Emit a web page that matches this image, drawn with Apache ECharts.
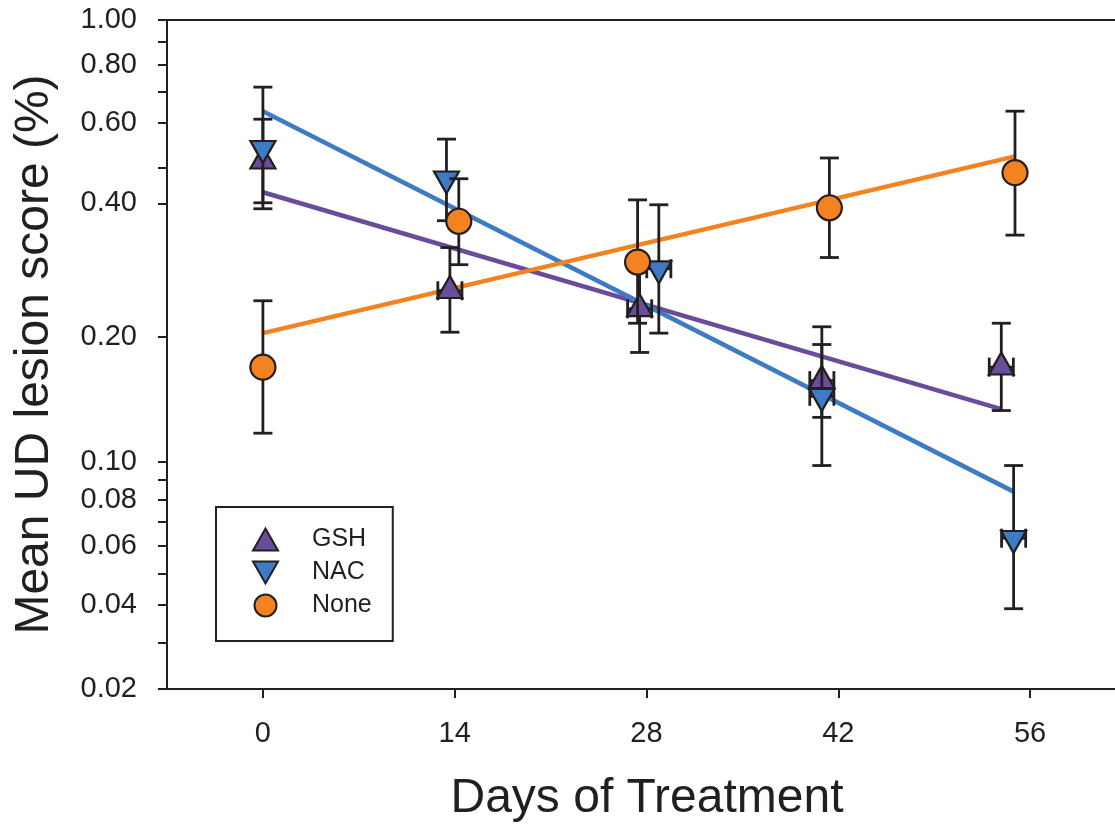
<!DOCTYPE html>
<html>
<head>
<meta charset="utf-8">
<script src="https://cdn.jsdelivr.net/npm/echarts@6/dist/echarts.min.js"></script>
<style>
html,body{margin:0;padding:0;background:#fff;}
#chart{width:1115px;height:828px;}
</style>
</head>
<body>
<div id="chart"></div>
<script>
// ---- data ----
const seriesNames = ['GSH', 'NAC', 'None'];

const gshDays   = [0, 13.65, 27.5, 40.8, 53.9];
const gshMean   = [0.495, 0.255, 0.232, 0.158, 0.170];
const gshUpper  = [0.611, 0.319, 0.292, 0.192, 0.215];
const gshLower  = [0.401, 0.205, 0.184, 0.129, 0.134];
const gshDayErr = [0, 0.88, 0.88, 0.88, 0.88];

const nacDays   = [0, 13.4, 28.9, 40.8, 54.8];
const nacMean   = [0.528, 0.453, 0.286, 0.145, 0.063];
const nacUpper  = [0.717, 0.553, 0.397, 0.211, 0.098];
const nacLower  = [0.389, 0.366, 0.204, 0.098, 0.039];
const nacDayErr = [0, 0, 0.88, 0.88, 0.88];

const noneDays   = [0, 14.3, 27.35, 41.35, 54.9];
const noneMean   = [0.170, 0.365, 0.296, 0.391, 0.467];
const noneUpper  = [0.242, 0.453, 0.407, 0.503, 0.636];
const noneLower  = [0.118, 0.292, 0.215, 0.303, 0.340];
const noneDayErr = [0, 0, 0, 0, 0];

// fitted trend lines (end points)
const gshFitDays  = [0, 53.9];
const gshFitVals  = [0.423, 0.135];
const nacFitDays  = [0, 54.8];
const nacFitVals  = [0.636, 0.084];
const noneFitDays = [0, 54.9];
const noneFitVals = [0.204, 0.507];

// axis ticks
const xTickValues = [0, 14, 28, 42, 56];
const yTickValues = [0.02, 0.04, 0.06, 0.08, 0.10, 0.20, 0.40, 0.60, 0.80, 1.00];
const yMinorTickValues = [0.03, 0.05, 0.07, 0.09, 0.48, 0.7, 0.9];

// ---- scale transform of the y axis (offset log) ----
const OFF = 0.02;
const T = v => Math.log10(v + OFF);

const INK = '#231f20';
const colors = { GSH: '#6a4c9c', NAC: '#3d7cc4', None: '#f58220' };
const FONT = 'Liberation Sans, Arial, Helvetica, sans-serif';

function errData(days, mean, lower, upper, dErr) {
  return days.map((d, i) => [d, T(mean[i]), T(lower[i]), T(upper[i]), dErr[i]]);
}
function ptData(days, mean) { return days.map((d, i) => [d, T(mean[i])]); }

function errRender(params, api) {
  const x = api.value(0), m = api.value(1), lo = api.value(2), hi = api.value(3), dx = api.value(4);
  const c = api.coord([x, m]);
  const pt = api.coord([x, hi]);
  const pb = api.coord([x, lo]);
  const cap = 9.5;
  const st = { stroke: INK, lineWidth: 2.8, fill: null };
  const ch = [
    { type: 'line', shape: { x1: c[0], y1: pt[1], x2: c[0], y2: pb[1] }, style: st },
    { type: 'line', shape: { x1: c[0] - cap, y1: pt[1], x2: c[0] + cap, y2: pt[1] }, style: st },
    { type: 'line', shape: { x1: c[0] - cap, y1: pb[1], x2: c[0] + cap, y2: pb[1] }, style: st }
  ];
  if (dx > 0) {
    const l = api.coord([x - dx, m]), r = api.coord([x + dx, m]);
    ch.push({ type: 'line', shape: { x1: l[0], y1: c[1], x2: r[0], y2: c[1] }, style: st });
    ch.push({ type: 'line', shape: { x1: l[0], y1: c[1] - cap, x2: l[0], y2: c[1] + cap }, style: st });
    ch.push({ type: 'line', shape: { x1: r[0], y1: c[1] - cap, x2: r[0], y2: c[1] + cap }, style: st });
  }
  return { type: 'group', children: ch };
}

function nearestTickLabel(val) {
  let best = yTickValues[0], bd = Infinity;
  yTickValues.forEach(v => { const d = Math.abs(T(v) - val); if (d < bd) { bd = d; best = v; } });
  return best.toFixed(2);
}

const chart = echarts.init(document.getElementById('chart'), null, { renderer: 'canvas' });

const option = {
  animation: false,
  backgroundColor: '#ffffff',
  textStyle: { fontFamily: FONT, color: INK },
  grid: { left: 167, right: 0, top: 20, bottom: 137, containLabel: false },
  xAxis: [{
    type: 'value', min: -7, max: 62.2,
    name: 'Days of Treatment', nameLocation: 'middle', nameGap: 86,
    nameTextStyle: { fontSize: 48, color: INK, fontFamily: FONT, padding: [0, 0, 0, 12] },
    axisLine: { show: true, onZero: false, lineStyle: { color: INK, width: 2 } },
    axisTick: { show: true, inside: false, length: 9, customValues: xTickValues, lineStyle: { color: INK, width: 2 } },
    axisLabel: { show: true, customValues: xTickValues, fontSize: 29, color: INK, fontFamily: FONT, margin: 30 },
    splitLine: { show: false }
  }, {
    type: 'value', min: -7, max: 62.2, position: 'top',
    axisLine: { show: true, onZero: false, lineStyle: { color: INK, width: 2 } },
    axisTick: { show: false }, axisLabel: { show: false }, splitLine: { show: false }
  }],
  yAxis: [{
    type: 'value', min: T(0.02), max: T(1.0),
    name: 'Mean UD lesion score (%)', nameLocation: 'middle', nameGap: 108,
    nameTextStyle: { fontSize: 48, color: INK, fontFamily: FONT },
    axisLine: { show: true, onZero: false, lineStyle: { color: INK, width: 2 } },
    axisTick: { show: true, inside: false, length: 9,
      customValues: yTickValues.concat(yMinorTickValues).map(T),
      lineStyle: { color: INK, width: 2 } },
    axisLabel: { show: true, customValues: yTickValues.map(T), fontSize: 29, color: INK,
      fontFamily: FONT, margin: 30, formatter: nearestTickLabel },
    splitLine: { show: false }
  }],
  legend: {
    orient: 'vertical', left: 216, top: 507,
    data: [
      { name: 'GSH', icon: 'triangle' },
      { name: 'NAC', icon: 'path://M0,0 L24,0 L12,21 Z' },
      { name: 'None', icon: 'circle' }
    ],
    borderColor: INK, borderWidth: 2, borderRadius: 0,
    padding: [20, 21, 23, 36],
    itemGap: 8, itemWidth: 25, itemHeight: 22,
    textStyle: { fontSize: 25, color: INK, fontFamily: FONT, padding: [0, 0, 0, 29] },
    selectedMode: false
  },
  series: [
    { name: 'GSH fit', type: 'line', z: 1, showSymbol: false, symbol: 'none', silent: true,
      data: ptData(gshFitDays, gshFitVals), lineStyle: { color: colors.GSH, width: 4.5 } },
    { name: 'NAC fit', type: 'line', z: 1, showSymbol: false, symbol: 'none', silent: true,
      data: ptData(nacFitDays, nacFitVals), lineStyle: { color: colors.NAC, width: 4.5 } },
    { name: 'None fit', type: 'line', z: 1, showSymbol: false, symbol: 'none', silent: true,
      data: ptData(noneFitDays, noneFitVals), lineStyle: { color: colors.None, width: 4.5 } },

    { name: 'GSH err', type: 'custom', z: 2, renderItem: errRender, encode: { x: 0, y: 1 },
      data: errData(gshDays, gshMean, gshLower, gshUpper, gshDayErr) },
    { name: 'GSH', type: 'scatter', z: 3, symbol: 'triangle', symbolSize: [25, 22], symbolOffset: [0, -3.7],
      data: ptData(gshDays, gshMean),
      itemStyle: { color: colors.GSH, borderColor: INK, borderWidth: 2.2, opacity: 1 } },

    { name: 'NAC err', type: 'custom', z: 4, renderItem: errRender, encode: { x: 0, y: 1 },
      data: errData(nacDays, nacMean, nacLower, nacUpper, nacDayErr) },
    { name: 'NAC', type: 'scatter', z: 5, symbol: 'triangle', symbolRotate: 180, symbolSize: [25, 22], symbolOffset: [0, 3.7],
      data: ptData(nacDays, nacMean),
      itemStyle: { color: colors.NAC, borderColor: INK, borderWidth: 2.2, opacity: 1 } },

    { name: 'None err', type: 'custom', z: 6, renderItem: errRender, encode: { x: 0, y: 1 },
      data: errData(noneDays, noneMean, noneLower, noneUpper, noneDayErr) },
    { name: 'None', type: 'scatter', z: 7, symbol: 'circle', symbolSize: 25,
      data: ptData(noneDays, noneMean),
      itemStyle: { color: colors.None, borderColor: INK, borderWidth: 2.2, opacity: 1 } }
  ]
};
chart.setOption(option);
</script>
</body>
</html>
